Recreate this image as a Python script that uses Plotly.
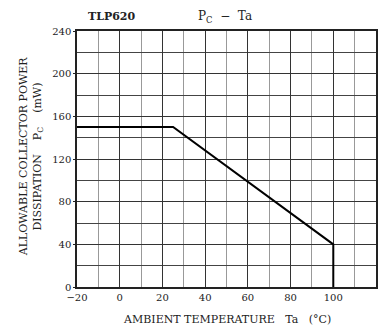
import plotly.graph_objects as go

# Derating curve: allowable collector power dissipation vs ambient temperature
ta = [-20, 25, 100, 100]
pc = [150, 150, 40, 0]

x_ticks = [-20, 0, 20, 40, 60, 80, 100, 120]
x_labels = ["\u221220", "0", "20", "40", "60", "80", "100", "120"]
y_ticks = [0, 40, 80, 120, 160, 200, 240]

FONT = "DejaVu Serif"
INK = "#222"

fig = go.Figure()
fig.add_trace(go.Scatter(
    x=ta, y=pc, mode="lines",
    line=dict(color="black", width=2),
    hoverinfo="skip", showlegend=False,
))


def label(text, x, y, size, angle=0, xref="paper"):
    return dict(text=text, x=x, y=y, xref=xref, yref="paper",
                xanchor="center", yanchor="middle", showarrow=False,
                textangle=angle, font=dict(family=FONT, size=size, color=INK))


fig.update_layout(
    width=383, height=326,
    margin=dict(l=77, r=5, t=31, b=39),
    paper_bgcolor="white", plot_bgcolor="white",
    font=dict(family=FONT, size=10, color=INK),
    xaxis=dict(
        range=[-20, 120], tickvals=x_ticks, ticktext=x_labels,
        showgrid=True, gridcolor="#333", gridwidth=1,
        minor=dict(dtick=10, tick0=-20, showgrid=True, gridcolor="#999", gridwidth=1),
        showline=True, linecolor=INK, linewidth=1.5, mirror=True,
        ticks="", ticklen=0, zeroline=False,
        tickfont=dict(family=FONT, size=10, color=INK),
    ),
    yaxis=dict(
        range=[0, 240], tickvals=y_ticks,
        showgrid=True, gridcolor="#333", gridwidth=1,
        minor=dict(dtick=20, tick0=0, showgrid=True, gridcolor="#444", gridwidth=1),
        showline=True, linecolor=INK, linewidth=1.5, mirror=True,
        ticks="outside", ticklen=2, tickcolor=INK, zeroline=False,
        tickfont=dict(family=FONT, size=10, color=INK),
    ),
    annotations=[
        label("<b>TLP620</b>", -3.7, 1.055, 11, xref="x"),
        label("P<sub>C</sub>  \u2212  Ta", 49.3, 1.055, 12, xref="x"),
        label("AMBIENT TEMPERATURE   Ta   (\u00b0C)", 0.50, -0.125, 11),
        label("ALLOWABLE COLLECTOR POWER", -0.178, 0.51, 11, -90),
        label("DISSIPATION    P<sub>C</sub>    (mW)", -0.13, 0.51, 11, -90),
    ],
)

fig.write_html("out.html")
